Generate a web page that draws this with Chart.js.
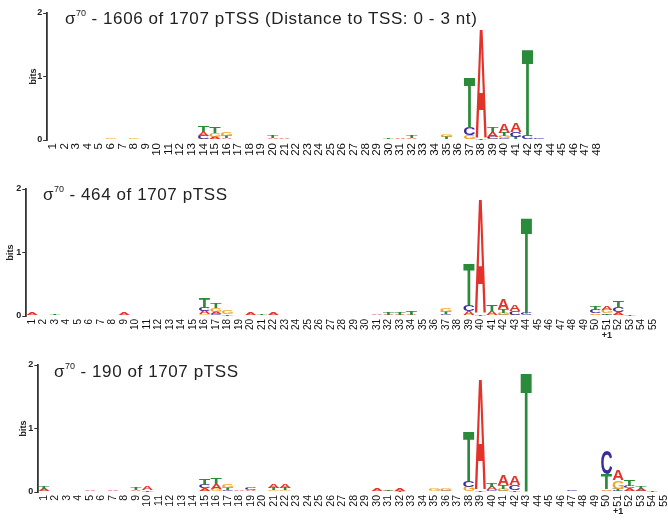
<!DOCTYPE html>
<html>
<head>
<meta charset="utf-8">
<script src="https://cdn.jsdelivr.net/npm/chart.js@4.4.1/dist/chart.umd.min.js"></script>
<style>
  body { margin: 0; width: 668px; height: 521px; background: #fff; overflow: hidden; position: relative; font-family: "Liberation Sans", Arial, sans-serif; }
  .box { position: absolute; left: 0; width: 668px; }
  .title { position: absolute; font-size: 17px; line-height: 17px; letter-spacing: 0.6px; color: #222; white-space: nowrap; }
  .title sup { font-size: 9px; vertical-align: 8px; line-height: 0; letter-spacing: 0; }
</style>
</head>
<body>
<div class="box" style="top:0;height:168px"><canvas id="logo1"></canvas></div>
<div class="box" style="top:172px;height:172px"><canvas id="logo2"></canvas></div>
<div class="box" style="top:350px;height:171px;width:680px"><canvas id="logo3"></canvas></div>
<div class="title" style="left:65px;top:10px">σ<sup>70</sup> - 1606 of 1707 pTSS (Distance to TSS: 0 - 3 nt)</div>
<div class="title" style="left:43px;top:186px">σ<sup>70</sup> - 464 of 1707 pTSS</div>
<div class="title" style="left:54px;top:363px">σ<sup>70</sup> - 190 of 1707 pTSS</div>
<script>
// position labels
const positions48 = Array.from({ length: 48 }, (_, i) => String(i + 1));
const positions55 = Array.from({ length: 55 }, (_, i) => String(i + 1));

// information (bits) per nucleotide, panel 1: 1606 of 1707
const a1 = [0, 0, 0, 0, 0, 0.01, 0.01, 0.01, 0.01, 0,
  0, 0, 0, 0.06, 0.04, 0.02, 0, 0.01, 0.01, 0.02,
  0.02, 0, 0, 0, 0, 0, 0, 0, 0.01, 0.01,
  0.02, 0.02, 0, 0, 0.01, 0, 0.02, 1.70, 0.07, 0.13,
  0.13, 0.01, 0.01, 0, 0, 0, 0, 0];
const c1 = [0, 0, 0, 0, 0, 0, 0, 0, 0, 0,
  0, 0, 0, 0.05, 0.01, 0.01, 0, 0, 0, 0.01,
  0, 0, 0, 0, 0, 0, 0, 0, 0, 0,
  0, 0.01, 0, 0, 0, 0, 0.12, 0, 0.03, 0.03,
  0.08, 0.06, 0.01, 0, 0, 0, 0, 0];
const g1 = [0, 0, 0, 0, 0, 0.01, 0, 0.01, 0, 0,
  0, 0, 0, 0.02, 0.06, 0.05, 0, 0, 0, 0,
  0, 0, 0, 0, 0, 0, 0, 0, 0, 0,
  0, 0, 0, 0, 0.04, 0, 0.05, 0, 0.02, 0.03,
  0.01, 0, 0, 0, 0, 0, 0, 0];
const t1 = [0, 0, 0, 0, 0, 0, 0, 0, 0, 0,
  0, 0, 0, 0.11, 0.11, 0.04, 0, 0, 0, 0.03,
  0.01, 0, 0, 0, 0, 0, 0, 0, 0, 0.01,
  0.01, 0.03, 0, 0, 0.03, 0, 0.79, 0.03, 0.08, 0.05,
  0.03, 1.35, 0, 0, 0, 0, 0, 0];

// panel 2: 464 of 1707
const a2 = [0.03, 0.01, 0.01, 0, 0, 0, 0, 0, 0.03, 0,
  0, 0.01, 0, 0, 0, 0.05, 0.04, 0, 0, 0.03,
  0.01, 0.04, 0.01, 0, 0, 0, 0, 0, 0, 0,
  0.02, 0.02, 0.02, 0.02, 0, 0, 0, 0, 0.06, 1.78,
  0.06, 0.16, 0.11, 0, 0, 0, 0, 0, 0, 0.02,
  0.06, 0.04, 0, 0, 0];
const c2 = [0, 0, 0, 0, 0, 0, 0, 0, 0, 0,
  0, 0, 0, 0, 0, 0.05, 0.03, 0, 0, 0.01,
  0, 0, 0, 0, 0, 0, 0, 0, 0, 0,
  0, 0, 0, 0, 0, 0, 0.03, 0, 0.10, 0,
  0, 0.02, 0.06, 0.05, 0, 0, 0, 0, 0, 0.05,
  0.02, 0.08, 0, 0, 0];
const g2 = [0, 0, 0, 0, 0, 0, 0, 0, 0, 0,
  0, 0, 0, 0, 0, 0.03, 0.05, 0.05, 0, 0,
  0, 0, 0, 0, 0, 0, 0, 0, 0, 0,
  0, 0, 0, 0, 0, 0, 0.07, 0, 0.02, 0,
  0.02, 0.03, 0.02, 0, 0, 0, 0, 0, 0, 0.02,
  0.05, 0.02, 0, 0, 0];
const t2 = [0.01, 0, 0.01, 0, 0, 0, 0, 0, 0.01, 0,
  0, 0, 0, 0, 0, 0.16, 0.08, 0.03, 0, 0,
  0.01, 0.01, 0, 0, 0, 0, 0, 0, 0, 0,
  0, 0.03, 0.03, 0.06, 0, 0, 0.03, 0, 0.65, 0.03,
  0.09, 0.06, 0, 1.50, 0, 0, 0, 0, 0, 0.05,
  0.02, 0.11, 0.02, 0, 0];

// panel 3: 190 of 1707
const a3 = [0.04, 0, 0, 0, 0.02, 0, 0.03, 0, 0.03, 0.05,
  0, 0, 0, 0, 0.04, 0.08, 0, 0.02, 0.03, 0,
  0.05, 0.05, 0.01, 0, 0, 0, 0, 0, 0, 0.03,
  0.02, 0.04, 0, 0, 0, 0, 0, 0, 1.72, 0.05,
  0.16, 0.13, 0, 0, 0, 0, 0, 0, 0, 0.02,
  0.16, 0.04, 0.03, 0, 0];
const c3 = [0, 0, 0, 0, 0, 0, 0, 0, 0, 0,
  0, 0, 0, 0, 0.05, 0, 0.03, 0, 0.03, 0,
  0, 0, 0, 0, 0, 0, 0, 0, 0, 0.01,
  0, 0, 0, 0, 0, 0.02, 0, 0.10, 0, 0.02,
  0.02, 0.08, 0, 0, 0, 0, 0.02, 0, 0, 0.38,
  0.02, 0.04, 0.02, 0, 0];
const g3 = [0, 0, 0, 0, 0, 0, 0, 0, 0, 0,
  0, 0, 0, 0, 0.02, 0.05, 0.06, 0, 0, 0,
  0.03, 0.03, 0, 0, 0, 0, 0, 0, 0, 0,
  0, 0, 0, 0, 0.03, 0.04, 0, 0.08, 0, 0.01,
  0.03, 0, 0, 0, 0, 0, 0, 0, 0, 0.02,
  0.13, 0.02, 0, 0, 0];
const t3 = [0.04, 0, 0, 0, 0.01, 0, 0, 0, 0.03, 0.03,
  0, 0, 0, 0, 0.11, 0.10, 0.03, 0, 0, 0,
  0.04, 0.04, 0, 0, 0, 0, 0, 0, 0, 0,
  0.02, 0.02, 0, 0, 0.01, 0, 0, 0.77, 0.03, 0.06,
  0.06, 0.03, 1.87, 0, 0, 0, 0, 0, 0, 0.24,
  0.03, 0.09, 0.03, 0.02, 0];

const letterColors = { A: "#e2322a", C: "#3b2c9e", G: "#f3a425", T: "#2a8b3b" };

// stack letters per position: smallest at the bottom, tallest on top
function rankStacks(series) {
  const n = series.A.length;
  const ranks = [0, 1, 2, 3].map(() => ({ data: [], letters: [] }));
  for (let i = 0; i < n; i++) {
    const col = ["A", "C", "G", "T"]
      .map((l) => ({ l, v: series[l][i] }))
      .sort((p, q) => p.v - q.v);
    col.forEach((c, r) => {
      ranks[r].data.push(c.v);
      ranks[r].letters.push(c.l);
    });
  }
  return ranks.map((r) => ({
    data: r.data,
    letters: r.letters,
    backgroundColor: "rgba(0,0,0,0)",
    borderWidth: 0,
    barPercentage: 0.96,
    categoryPercentage: 1,
  }));
}

const glyphs = {};
function glyphMetrics(ctx, letter) {
  if (!glyphs[letter]) {
    ctx.save();
    ctx.font = 'bold 200px "Liberation Sans", Arial, sans-serif';
    const m = ctx.measureText(letter);
    ctx.restore();
    glyphs[letter] = {
      left: m.actualBoundingBoxLeft,
      asc: m.actualBoundingBoxAscent,
      w: m.actualBoundingBoxLeft + m.actualBoundingBoxRight,
      h: m.actualBoundingBoxAscent + m.actualBoundingBoxDescent,
    };
  }
  return glyphs[letter];
}

// draws each stacked bar as a stretched letter
const logoLetters = {
  id: "logoLetters",
  afterDatasetsDraw(chart, args, opts) {
    const ctx = chart.ctx;
    chart.data.datasets.forEach((ds, di) => {
      chart.getDatasetMeta(di).data.forEach((bar, i) => {
        const letter = ds.letters[i];
        const h = bar.base - bar.y;
        if (!letter || h < 0.3) return;
        const g = glyphMetrics(ctx, letter);
        ctx.save();
        ctx.translate(bar.x - bar.width / 2, bar.y);
        ctx.scale(bar.width / g.w, h / g.h);
        ctx.font = 'bold 200px "Liberation Sans", Arial, sans-serif';
        ctx.fillStyle = letterColors[letter];
        ctx.textBaseline = "alphabetic";
        ctx.fillText(letter, g.left, g.asc);
        ctx.restore();
      });
    });
    if (opts.plusOne) {
      const x = chart.scales.x.getPixelForValue(opts.plusOne - 1);
      ctx.save();
      ctx.font = 'bold 9px "Liberation Sans", Arial, sans-serif';
      ctx.fillStyle = "#222";
      ctx.textAlign = "center";
      ctx.textBaseline = "middle";
      ctx.fillText("+1", x, chart.chartArea.bottom + 20);
      ctx.restore();
    }
  },
};

function makeLogo(canvasId, labels, series, box) {
  new Chart(document.getElementById(canvasId), {
    type: "bar",
    data: { labels: labels, datasets: rankStacks(series) },
    plugins: [logoLetters],
    options: {
      responsive: true,
      maintainAspectRatio: false,
      animation: false,
      layout: { padding: { top: box.top, left: box.left, right: box.right, bottom: 0 } },
      plugins: {
        legend: { display: false },
        tooltip: { enabled: false },
        logoLetters: { plusOne: box.plusOne },
      },
      scales: {
        x: {
          stacked: true,
          grid: { display: false, drawTicks: false },
          border: { display: false },
          ticks: {
            autoSkip: false,
            maxRotation: 90,
            minRotation: 90,
            padding: 3,
            color: "#111",
            font: { size: box.labelSize },
          },
          afterFit: (s) => { s.height = box.xHeight; },
        },
        y: {
          stacked: true,
          min: 0,
          max: 2,
          ticks: { stepSize: 1, padding: 1, color: "#222", font: { size: 9, weight: "bold" } },
          grid: { drawOnChartArea: false, tickLength: 4, color: "#333" },
          border: { color: "#333", width: 1.8 },
          title: { display: true, text: "bits", padding: 0, color: "#222", font: { size: 9, weight: "bold" } },
          afterFit: (s) => { s.width = box.yWidth; },
        },
      },
    },
  });
}

makeLogo("logo1", positions48, { A: a1, C: c1, G: g1, T: t1 },
  { top: 13, left: 28.6, yWidth: 18.6, right: 65.4, xHeight: 28, labelSize: 11.5 });
makeLogo("logo2", positions55, { A: a2, C: c2, G: g2, T: t2 },
  { top: 17, left: 5, yWidth: 21.25, right: 9.25, xHeight: 28, labelSize: 10, plusOne: 51 });
makeLogo("logo3", positions55, { A: a3, C: c3, G: g3, T: t3 },
  { top: 15, left: 18.6, yWidth: 19.7, right: 10.3, xHeight: 29, labelSize: 10.5, plusOne: 51 });
</script>
</body>
</html>
